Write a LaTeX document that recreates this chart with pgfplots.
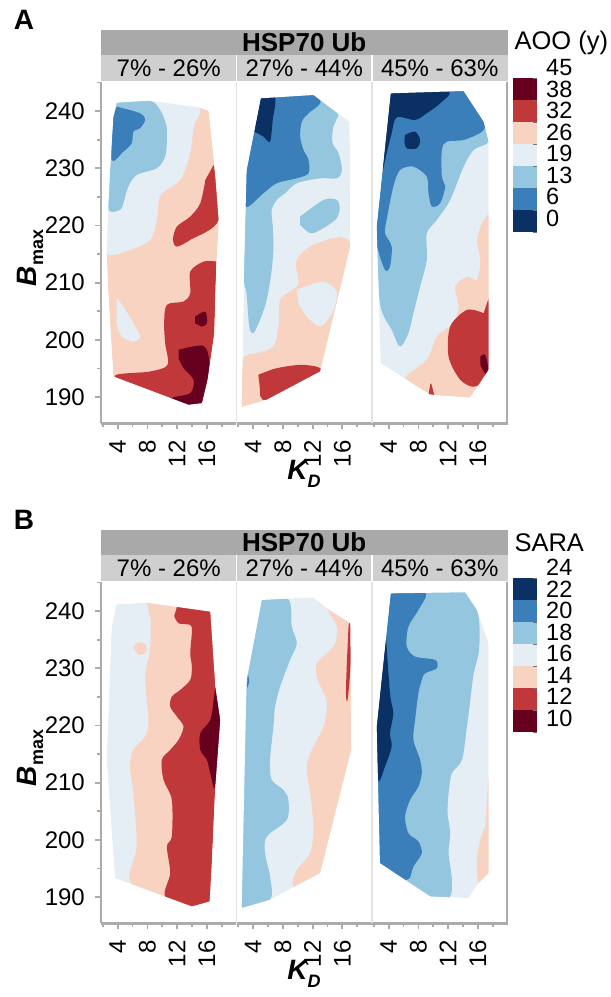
\documentclass[border=0pt]{standalone}
\usepackage{fontspec}
\setmainfont{Liberation Sans}
\usepackage{pgfplots}
\pgfplotsset{compat=1.18}

% contour band colours (dark blue ... dark red)
\definecolor{c1}{HTML}{0A3064}
\definecolor{c2}{HTML}{3A7FBA}
\definecolor{c3}{HTML}{94C6DF}
\definecolor{c4}{HTML}{E4EEF4}
\definecolor{c5}{HTML}{F9D3C1}
\definecolor{c6}{HTML}{C1383A}
\definecolor{c7}{HTML}{67001F}
\definecolor{axgray}{HTML}{ABABAB}
\definecolor{stripdark}{HTML}{A9A9A9}
\definecolor{striplight}{HTML}{CFCFCF}
\definecolor{sepgray}{HTML}{E3E3E3}

\newcommand{\fs}[1]{\fontsize{#1}{#1}\selectfont}
\newcommand{\tickfont}{\fontsize{24}{24}\selectfont}

\pgfplotsset{
  facet/.style={
    scale only axis, width=135.5pt, height=341.3pt, anchor=south west,
    xmin=1.75, xmax=20.0, ymin=185.4, ymax=245.1,
    axis on top,
    axis x line*=bottom,
    axis line style={draw=axgray, line width=2.5pt},
    xtick={4,8,12,16}, minor xtick={2,6,10,14,18},
    tick align=outside,
    major tick length=6pt, minor tick length=3.5pt,
    tick style={draw=axgray, line width=1.8pt},
    /pgf/number format/assume math mode=true,
    xticklabel={\tickfont\pgfmathprintnumber{\tick}},
    yticklabel={\tickfont\pgfmathprintnumber{\tick}},
    xticklabel style={rotate=90, anchor=east, inner sep=0pt},
    yticklabel style={inner sep=0pt},
    xticklabel shift=11pt,
    yticklabel shift=10pt,
  },
  facetfirst/.style={facet, axis y line*=left,
    ytick={190,200,...,240}, minor ytick={195,205,...,245}},
  facetrest/.style={facet, axis y line=none, ytick=\empty},
  hull/.style={fill=#1, draw=none},
  band/.style={fill=#1, draw=none, smooth, tension=0.5},
  mask/.style={fill=white, draw=none, even odd rule, unbounded coords=jump},
}

\begin{document}
\begin{tikzpicture}[x=1pt,y=1pt]
\useasboundingbox (0,0) rectangle (611,997);

% ================= panel A : AOO =================
\node[font=\fs{28}\bfseries] at (24,977) {A};
\fill[stripdark] (101,942) rectangle (507.5,967);
\node[font=\fs{26}\bfseries] at (304.25,954.5) {HSP70 Ub};
\fill[striplight] (101,915) rectangle (507.5,942);
\draw[white, line width=1.5pt] (236.5,915) -- (236.5,942) (372,915) -- (372,942);
\node[font=\fs{24}] at (168.75,928.5) {7\% - 26\%};
\node[font=\fs{24}] at (304.25,928.5) {27\% - 44\%};
\node[font=\fs{24}] at (439.75,928.5) {45\% - 63\%};

\begin{axis}[facetfirst, at={(101pt,573.7pt)}]
  \addplot[hull=c5] coordinates {(3.86,241.49) (8.27,241.84) (14.89,240.67) (16.25,240.09) (17.01,230.88) (17.6,220.98) (17.6,219.81) (17.28,212.82) (17.01,201.16) (16.11,193.0) (15.35,188.92) (13.54,188.63) (3.41,193.59) (2.73,208.15) (2.51,215.15) (2.73,223.31) (3.05,231.47) (3.41,239.04)} --cycle;
  \addplot[band=c4] coordinates {(3.86,241.49) (8.27,241.84) (14.89,240.67) (14.22,237.29) (13.77,232.63) (12.42,227.97) (9.94,225.64) (9.49,223.89) (9.26,220.98) (8.36,217.48) (5.66,215.73) (2.51,215.2) (2.73,223.31) (3.05,231.47) (3.41,239.04)} --cycle;
  \addplot[band=c3] coordinates {(3.86,241.49) (8.27,241.84) (9.71,240.21) (10.53,237.59) (10.62,234.96) (10.39,232.05) (9.26,230.01) (6.56,228.84) (5.43,226.8) (4.76,223.89) (4.31,222.72) (2.73,223.02) (3.05,231.47) (3.41,239.04)} --cycle;
  \addplot[band=c2] coordinates {(3.86,240.79) (7.01,239.63) (7.69,238.46) (7.01,237.0) (6.11,236.42) (5.89,234.38) (4.76,232.92) (3.18,231.47) (3.41,239.04)} --cycle;
  \addplot[band=c4] coordinates {(3.86,207.28) (4.76,205.82) (6.11,202.91) (7.01,200.58) (6.11,199.7) (4.53,200.58) (3.86,202.91)} --cycle;
  \addplot[band=c6] coordinates {(16.92,230.59) (17.6,220.98) (13.77,217.48) (11.97,216.31) (11.43,217.48) (11.97,219.81) (13.77,221.56) (15.12,223.89) (15.8,227.97)} --cycle;
  \addplot[band=c6] coordinates {(17.28,213.69) (15.57,213.69) (13.77,211.94) (13.77,208.15) (12.87,206.7) (10.62,206.12) (10.25,202.91) (10.39,199.41) (10.71,195.62) (8.36,194.46) (3.63,193.47) (13.54,188.63) (15.35,188.92) (16.11,193.0) (17.01,201.16)} --cycle;
  \addplot[band=c7] coordinates {(14.44,204.08) (15.8,204.95) (16.02,202.91) (15.35,202.33) (14.44,202.91)} --cycle;
  \addplot[band=c7] coordinates {(12.19,198.25) (15.57,198.95) (16.38,195.91) (16.11,193.0) (15.35,188.92) (13.54,188.63) (11.29,189.8) (13.77,190.67) (14.22,193.0) (12.87,195.04) (12.19,196.79)} --cycle;
  \addplot[mask] coordinates {(0,180) (22,180) (22,250) (0,250) (0,180) (nan,nan) (3.86,241.49) (8.27,241.84) (14.89,240.67) (16.25,240.09) (17.01,230.88) (17.6,220.98) (17.6,219.81) (17.28,212.82) (17.01,201.16) (16.11,193.0) (15.35,188.92) (13.54,188.63) (3.41,193.59) (2.73,208.15) (2.51,215.15) (2.73,223.31) (3.05,231.47) (3.41,239.04) (3.86,241.49)};
\end{axis}

\begin{axis}[facetrest, at={(236.5pt,573.7pt)}]
  \addplot[hull=c4] coordinates {(5.01,242.25) (12.12,242.83) (15.28,239.74) (16.99,238.17) (17.08,216.31) (13.02,194.46) (5.82,189.51) (2.44,188.22) (2.75,211.65) (3.11,229.72)} --cycle;
  \addplot[band=c3] coordinates {(5.01,242.25) (12.12,242.83) (15.28,239.74) (15.28,238.75) (14.74,237.0) (14.69,234.38) (15.5,232.63) (15.95,229.72) (15.28,228.26) (13.02,228.26) (9.87,227.39) (8.29,225.64) (7.17,224.47) (6.49,222.72) (6.63,219.81) (6.72,216.31) (6.49,212.23) (5.82,206.99) (4.92,203.49) (4.01,201.16) (3.47,202.33) (3.11,208.15) (2.75,211.65) (3.11,229.72)} --cycle;
  \addplot[band=c2] coordinates {(5.01,242.25) (12.12,242.83) (13.02,241.37) (11.45,239.63) (10.55,238.17) (10.32,235.55) (10.77,233.22) (11.45,231.47) (11.45,229.13) (9.87,228.26) (7.17,227.39) (5.37,225.64) (2.98,223.31) (3.11,229.72)} --cycle;
  \addplot[band=c1] coordinates {(5.01,242.25) (6.94,242.36) (6.63,238.46) (6.27,234.67) (5.37,235.55) (4.15,236.42)} --cycle;
  \addplot[band=c3] coordinates {(10.32,221.56) (13.48,224.47) (15.28,224.47) (15.64,222.72) (15.05,220.98) (13.02,219.23) (11.67,218.65) (10.32,220.1)} --cycle;
  \addplot[band=c5] coordinates {(2.44,188.22) (2.66,196.5) (4.47,197.66) (6.72,198.83) (7.39,202.33) (7.62,206.99) (8.97,208.45) (10.1,209.9) (9.87,213.98) (12.57,216.9) (17.08,216.31) (13.02,194.46) (5.82,189.51)} --cycle;
  \addplot[band=c4] coordinates {(9.87,208.74) (13.48,210.19) (15.28,208.15) (14.6,204.66) (13.02,202.33) (11.22,204.08) (10.1,206.41)} --cycle;
  \addplot[band=c6] coordinates {(4.69,193.88) (7.17,195.04) (10.77,195.62) (13.02,194.46) (5.82,189.51) (4.92,191.25)} --cycle;
  \addplot[mask] coordinates {(0,180) (22,180) (22,250) (0,250) (0,180) (nan,nan) (5.01,242.25) (12.12,242.83) (15.28,239.74) (16.99,238.17) (17.08,216.31) (13.02,194.46) (5.82,189.51) (2.44,188.22) (2.75,211.65) (3.11,229.72) (5.01,242.25)};
\end{axis}

\begin{axis}[facetrest, at={(372pt,573.7pt)}]
  \addplot[hull=c4] coordinates {(4.26,243.12) (14.09,243.53) (16.79,238.17) (17.46,234.67) (17.46,194.75) (14.99,189.91) (9.58,190.38) (2.91,195.91) (2.37,219.81)} --cycle;
  \addplot[band=c3] coordinates {(4.26,243.12) (14.09,243.53) (16.79,238.17) (17.46,234.67) (15.44,233.22) (14.09,230.3) (12.28,224.47) (10.48,220.98) (9.13,218.65) (9.13,213.98) (8.23,209.32) (7.33,204.66) (6.65,201.16) (5.53,198.83) (4.4,201.75) (2.82,206.41) (2.37,219.81)} --cycle;
  \addplot[band=c2] coordinates {(4.26,243.12) (14.09,243.53) (16.79,238.17) (16.56,236.42) (14.09,234.96) (11.83,234.67) (11.16,233.22) (11.16,228.55) (11.61,226.8) (10.93,223.89) (9.81,223.31) (9.36,225.64) (9.13,228.55) (7.33,230.3) (5.53,229.72) (4.62,226.8) (3.72,220.98) (3.5,218.65) (4.4,216.31) (4.17,212.82) (3.5,212.23) (2.46,216.31) (2.37,219.81)} --cycle;
  \addplot[band=c1] coordinates {(4.26,243.12) (11.92,243.41) (10.93,241.37) (9.13,239.63) (7.55,238.46) (5.08,238.93) (4.4,236.13) (3.72,232.63) (3.18,229.72) (3.77,237.29)} --cycle;
  \addplot[band=c1] coordinates {(6.2,235.84) (7.55,236.42) (8.23,234.96) (7.78,233.51) (6.43,233.51) (6.11,234.67)} --cycle;
  \addplot[band=c5] coordinates {(17.46,222.14) (17.46,194.75) (14.99,189.91) (9.58,190.38) (6.2,193.17) (9.13,196.5) (10.48,200.58) (12.73,202.91) (13.41,205.82) (12.96,209.32) (14.54,211.07) (15.89,210.49) (16.34,213.98) (15.89,217.48) (16.56,220.39)} --cycle;
  \addplot[band=c6] coordinates {(17.46,207.28) (17.46,194.75) (15.66,191.84) (13.64,193.0) (12.06,197.08) (12.28,202.33) (14.54,205.24) (16.79,204.66)} --cycle;
  \addplot[band=c7] coordinates {(16.34,197.08) (17.01,197.37) (17.42,194.75) (17.01,194.05) (16.34,195.62)} --cycle;
  \addplot[band=c6] coordinates {(9.4,190.5) (9.67,192.42) (10.12,190.38)} --cycle;
  \addplot[mask] coordinates {(0,180) (22,180) (22,250) (0,250) (0,180) (nan,nan) (4.26,243.12) (14.09,243.53) (16.79,238.17) (17.46,234.67) (17.46,194.75) (14.99,189.91) (9.58,190.38) (2.91,195.91) (2.37,219.81) (4.26,243.12)};
\end{axis}

\draw[sepgray, line width=1.2pt] (236.5,573.7) -- (236.5,915) (372,573.7) -- (372,915);
\draw[axgray, line width=2.5pt] (507,572.5) -- (507,915);
\node[rotate=90, font=\fs{28}] at (30,739) {{\bfseries\itshape B}\raisebox{-0.25em}{\fs{18}\bfseries max}};
\node[font=\fs{28}\bfseries\itshape] at (304,523) {K\raisebox{-0.3em}{\fs{18}D}};

% colour key A
\node[anchor=west, font=\fs{25.5}] at (511,954) {AOO (y)};
\foreach \c [count=\i from 0] in {c7,c6,c5,c4,c3,c2,c1}
  \fill[\c] (513.3,918.7-22*\i) rectangle (536.7,896.7-22*\i);
\foreach \v [count=\i from 0] in {45,38,32,26,19,13,6,0} {
  \draw[black!55, line width=0.8pt] (533,918.7-22*\i) -- (536.7,918.7-22*\i);
  \node[anchor=west, font=\fs{23.5}, inner sep=0pt, text height=8pt, text depth=8pt] at (546,921-21.5*\i) {\v};
}

% ================= panel B : SARA =================
\node[font=\fs{28}\bfseries] at (24,477) {B};
\fill[stripdark] (101,442) rectangle (507.5,467);
\node[font=\fs{26}\bfseries] at (304.25,454.5) {HSP70 Ub};
\fill[striplight] (101,415) rectangle (507.5,442);
\draw[white, line width=1.5pt] (236.5,415) -- (236.5,442) (372,415) -- (372,442);
\node[font=\fs{24}] at (168.75,428.5) {7\% - 26\%};
\node[font=\fs{24}] at (304.25,428.5) {27\% - 44\%};
\node[font=\fs{24}] at (439.75,428.5) {45\% - 63\%};

\begin{axis}[facetfirst, at={(101pt,73.7pt)}]
  \addplot[hull=c4] coordinates {(3.86,241.2) (7.91,241.49) (16.47,239.92) (17.15,226.8) (17.82,220.98) (17.15,209.32) (16.7,196.5) (16.38,189.21) (13.99,188.34) (3.63,193.29) (2.51,213.98) (3.18,237.29)} --cycle;
  \addplot[band=c5] coordinates {(7.91,241.49) (16.47,239.92) (17.15,226.8) (17.82,220.98) (17.15,209.32) (16.7,196.5) (16.38,189.21) (13.99,188.34) (5.89,192.3) (6.56,198.83) (6.11,208.15) (5.66,212.82) (6.11,215.73) (7.69,218.06) (8.14,220.98) (7.69,228.55) (8.36,233.22) (8.45,238.46)} --cycle;
  \addplot[band=c5] coordinates {(6.11,233.51) (6.56,234.38) (7.46,234.5) (7.91,233.68) (7.69,232.63) (6.79,232.34)} --cycle;
  \addplot[band=c6] coordinates {(11.97,240.73) (16.47,239.92) (17.15,226.8) (17.82,220.98) (17.15,209.32) (16.7,196.5) (16.38,189.21) (13.99,188.34) (10.39,190.09) (11.07,194.17) (10.62,198.83) (11.29,200.58) (11.29,206.99) (10.17,210.49) (9.94,213.98) (11.07,215.73) (12.19,217.48) (12.87,219.81) (11.97,221.56) (11.07,223.31) (11.29,225.06) (12.42,226.22) (13.77,227.97) (13.99,230.3) (13.77,232.63) (13.99,236.42) (13.77,237.59) (12.19,237.88) (11.61,239.16)} --cycle;
  \addplot[band=c7] coordinates {(17.15,226.8) (17.82,220.98) (17.15,209.32) (16.47,211.65) (16.02,213.98) (15.12,215.73) (15.12,218.65) (16.47,220.98) (16.92,224.47)} --cycle;
  \addplot[mask] coordinates {(0,180) (22,180) (22,250) (0,250) (0,180) (nan,nan) (3.86,241.2) (7.91,241.49) (16.47,239.92) (17.15,226.8) (17.82,220.98) (17.15,209.32) (16.7,196.5) (16.38,189.21) (13.99,188.34) (3.63,193.29) (2.51,213.98) (3.18,237.29) (3.86,241.2)};
\end{axis}

\begin{axis}[facetrest, at={(236.5pt,73.7pt)}]
  \addplot[hull=c4] coordinates {(5.14,241.96) (12.12,242.42) (13.93,240.5) (17.08,237.88) (17.21,215.73) (13.02,194.17) (6.27,189.51) (2.44,188.05) (3.11,227.97)} --cycle;
  \addplot[band=c3] coordinates {(5.14,241.96) (8.74,242.07) (9.2,237.29) (9.87,234.38) (8.97,231.47) (7.62,226.8) (6.94,223.31) (6.72,219.81) (6.27,213.98) (6.49,210.49) (8.07,208.74) (8.74,206.99) (8.52,203.49) (5.82,200.58) (5.59,197.66) (6.27,193.59) (6.27,189.51) (2.44,188.05) (3.11,227.97)} --cycle;
  \addplot[band=c2] coordinates {(3.25,229.13) (3.47,227.68) (3.16,226.51)} --cycle;
  \addplot[band=c5] coordinates {(13.93,240.5) (17.08,237.88) (17.21,215.73) (13.02,194.17) (9.42,191.84) (9.87,194.75) (11.67,197.66) (12.12,202.33) (11.67,208.15) (11.22,212.23) (11.67,215.15) (13.48,219.81) (13.93,223.89) (13.48,225.64) (12.57,228.55) (12.57,230.88) (13.93,232.63) (15.05,234.38) (15.28,237.29) (14.38,239.33)} --cycle;
  \addplot[band=c6] coordinates {(16.85,237.59) (17.12,237.59) (17.17,231.47) (16.72,224.47) (16.49,225.64) (16.63,231.47)} --cycle;
  \addplot[mask] coordinates {(0,180) (22,180) (22,250) (0,250) (0,180) (nan,nan) (5.14,241.96) (12.12,242.42) (13.93,240.5) (17.08,237.88) (17.21,215.73) (13.02,194.17) (6.27,189.51) (2.44,188.05) (3.11,227.97) (5.14,241.96)};
\end{axis}

\begin{axis}[facetrest, at={(372pt,73.7pt)}]
  \addplot[hull=c4] coordinates {(4.26,243.12) (14.31,243.3) (15.89,240.21) (17.46,234.38) (17.46,194.17) (16.11,192.42) (14.76,189.8) (9.58,190.09) (2.82,195.91) (2.37,219.81)} --cycle;
  \addplot[band=c3] coordinates {(4.26,243.12) (14.31,243.3) (15.89,240.21) (16.25,236.71) (16.11,232.63) (15.44,229.13) (14.99,224.47) (14.54,219.81) (13.86,213.98) (12.51,211.65) (12.06,208.15) (11.92,204.66) (12.28,201.16) (12.06,197.66) (12.51,193.0) (12.19,189.95) (9.58,190.09) (2.82,195.91) (2.37,219.81)} --cycle;
  \addplot[band=c2] coordinates {(4.26,243.12) (8.9,243.2) (8.0,240.21) (6.65,237.29) (6.43,233.8) (7.55,232.05) (10.26,231.47) (10.48,230.01) (8.9,229.13) (8.45,227.97) (8.0,225.64) (7.55,220.98) (7.33,217.48) (8.23,213.98) (8.45,211.65) (8.0,209.32) (6.88,206.99) (6.2,204.08) (6.65,201.16) (8.0,199.7) (8.45,197.66) (7.33,195.33) (6.43,193.0) (2.82,195.91) (2.37,219.81)} --cycle;
  \addplot[band=c1] coordinates {(3.63,235.55) (4.17,225.64) (4.62,222.14) (4.17,218.65) (4.4,216.31) (3.5,212.82) (2.6,210.49) (2.37,219.81)} --cycle;
  \addplot[band=c5] coordinates {(17.46,211.65) (17.46,194.17) (16.11,192.42) (15.89,196.5) (16.34,199.99) (17.01,202.33)} --cycle;
  \addplot[mask] coordinates {(0,180) (22,180) (22,250) (0,250) (0,180) (nan,nan) (4.26,243.12) (14.31,243.3) (15.89,240.21) (17.46,234.38) (17.46,194.17) (16.11,192.42) (14.76,189.8) (9.58,190.09) (2.82,195.91) (2.37,219.81) (4.26,243.12)};
\end{axis}

\draw[sepgray, line width=1.2pt] (236.5,73.7) -- (236.5,415) (372,73.7) -- (372,415);
\draw[axgray, line width=2.5pt] (507,72.5) -- (507,415);
\node[rotate=90, font=\fs{28}] at (30,239) {{\bfseries\itshape B}\raisebox{-0.25em}{\fs{18}\bfseries max}};
\node[font=\fs{28}\bfseries\itshape] at (304,23) {K\raisebox{-0.3em}{\fs{18}D}};

% colour key B
\node[anchor=west, font=\fs{25.5}] at (511,454) {SARA};
\foreach \c [count=\i from 0] in {c1,c2,c3,c4,c5,c6,c7}
  \fill[\c] (513.3,418.7-22*\i) rectangle (536.7,396.7-22*\i);
\foreach \v [count=\i from 0] in {24,22,20,18,16,14,12,10} {
  \draw[black!55, line width=0.8pt] (533,418.7-22*\i) -- (536.7,418.7-22*\i);
  \node[anchor=west, font=\fs{23.5}, inner sep=0pt, text height=8pt, text depth=8pt] at (546,421-21.5*\i) {\v};
}
\end{tikzpicture}
\end{document}
